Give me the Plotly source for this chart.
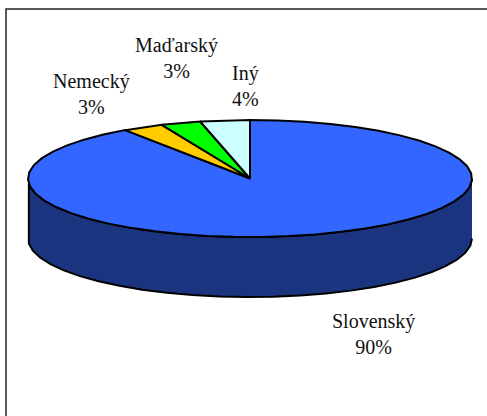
import numpy as np
import plotly.graph_objects as go

# Data, in drawing order clockwise from twelve o'clock
categories = ["Slovenský", "Nemecký", "Maďarský", "Iný"]
values = [90.4, 3.0, 2.9, 3.6]
percent_labels = ["90%", "3%", "3%", "4%"]
colors = ["#3366FF", "#FFCC00", "#00FF00", "#CCFFFF"]
label_x = [373, 91, 176, 245]
label_y = [334, 94, 58, 86]

SIDE = "#1A347F"
CX, CY, RX, RY, DEPTH = 250.0, 178.5, 222.0, 58.5, 60.0
W, H = 487, 416
STEP = 7


def ell(a):
    """a: clockwise angle from top, in radians"""
    return CX + RX * np.sin(a), CY - RY * np.cos(a)


fig = go.Figure()
line = dict(color="black", width=2)

# side wall: the front half of the rim, extruded downward
a = np.radians(np.arange(90, 270.01, STEP))
x, y = ell(a)
fig.add_trace(go.Scatter(
    x=np.r_[x, x[::-1]], y=np.r_[y, (y + DEPTH)[::-1]],
    mode="lines", fill="toself", fillcolor=SIDE, line=line, hoverinfo="skip"))

# top slices
start = 0.0
total = sum(values)
for name, val, col in zip(categories, values, colors):
    end = start + val / total * 2 * np.pi
    n = max(2, int(np.degrees(end - start) / STEP) + 1)
    a = np.linspace(start, end, n)
    x, y = ell(a)
    fig.add_trace(go.Scatter(
        x=np.r_[CX, x, CX], y=np.r_[CY, y, CY],
        mode="lines", fill="toself", fillcolor=col, line=line,
        name=name, hoverinfo="skip"))
    start = end

for name, pct, lx, ly in zip(categories, percent_labels, label_x, label_y):
    fig.add_annotation(
        x=lx, y=ly, text=f"{name}<br>{pct}", showarrow=False,
        font=dict(family="'Liberation Serif', 'Times New Roman', serif", size=20, color="#111111"),
        align="center")

fig.update_layout(
    width=W, height=H, margin=dict(l=0, r=0, t=0, b=0),
    paper_bgcolor="white", plot_bgcolor="white", showlegend=False,
    xaxis=dict(range=[0, W], visible=False, fixedrange=True),
    yaxis=dict(range=[H, 0], visible=False, fixedrange=True),
    shapes=[dict(type="rect", xref="x", yref="y", x0=6, y0=9, x1=500, y1=430,
                 line=dict(color="#222222", width=1.5))],
)
fig.write_html("out.html", config=dict(displayModeBar=False),
               post_script="document.body.style.margin='0';document.documentElement.style.overflow='hidden';")
